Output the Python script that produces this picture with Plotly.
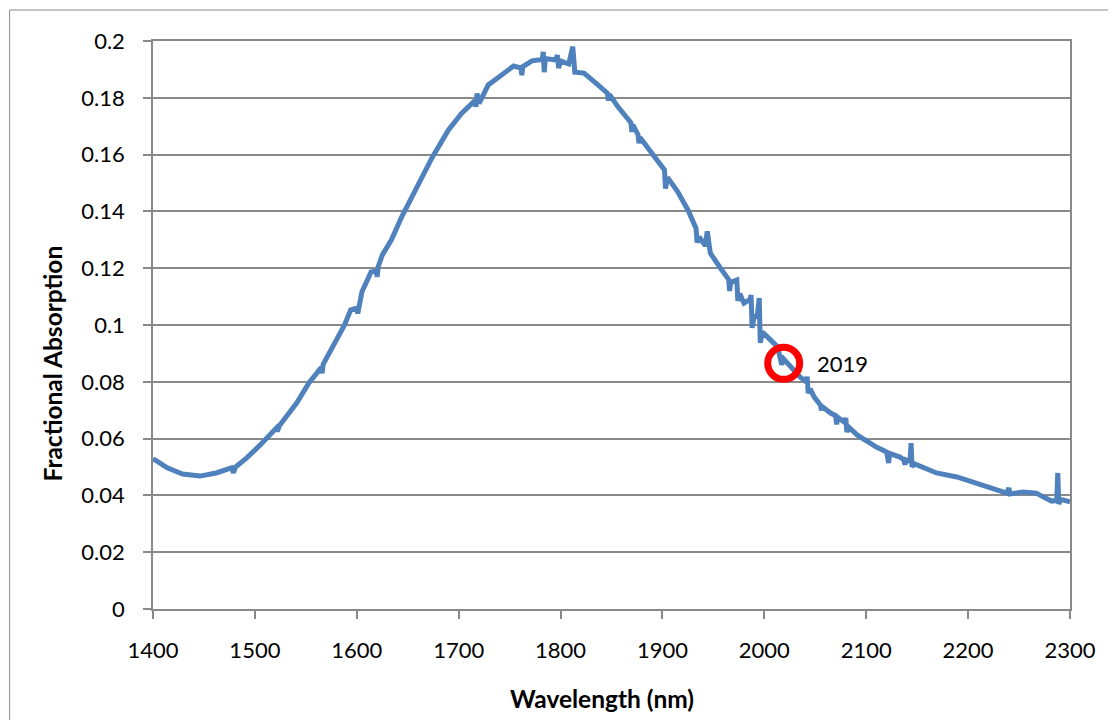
import plotly.graph_objects as go

# Wavelength (nm) and fractional absorption
wavelength = [
    1400, 1402, 1414, 1429, 1446, 1462, 1477, 1479, 1481, 1492,
    1505, 1521, 1522, 1524, 1541, 1553, 1565, 1566, 1567, 1576,
    1588, 1594, 1600, 1601, 1605, 1614, 1619, 1620, 1621, 1625,
    1634, 1644, 1654, 1674, 1690, 1703, 1716, 1717, 1718, 1720,
    1729, 1746, 1754, 1761, 1762, 1763, 1772, 1782, 1783, 1784,
    1785, 1795, 1797, 1798, 1800, 1808, 1812, 1814, 1823, 1837,
    1846, 1847, 1848, 1856, 1869, 1870, 1871, 1876, 1877, 1878,
    1889, 1902, 1903, 1905, 1915, 1925, 1933, 1934, 1936, 1942,
    1944, 1946, 1947, 1957, 1965, 1966, 1967, 1973, 1974, 1976,
    1980, 1986, 1987, 1988, 1990, 1993, 1995, 1996, 1998, 2003,
    2013, 2016, 2017, 2019, 2026, 2035, 2041, 2042, 2043, 2045,
    2049, 2055, 2056, 2057, 2065, 2070, 2071, 2072, 2078, 2080,
    2081, 2083, 2091, 2110, 2120, 2122, 2123, 2133, 2137, 2138,
    2139, 2143, 2144, 2145, 2147, 2150, 2169, 2189, 2208, 2225,
    2238, 2240, 2241, 2254, 2267, 2274, 2282, 2287, 2288, 2289,
    2291, 2293, 2300,
]
absorption = [
    0.0528, 0.0525, 0.0497, 0.0475, 0.0468, 0.0479, 0.0497, 0.0480, 0.0500, 0.0532,
    0.0577, 0.0637, 0.0625, 0.0645, 0.0725, 0.0796, 0.0850, 0.0830, 0.0862, 0.0919,
    0.1000, 0.1053, 0.1060, 0.1040, 0.1116, 0.1187, 0.1190, 0.1170, 0.1205, 0.1246,
    0.1300, 0.1380, 0.1450, 0.1590, 0.1687, 0.1746, 0.1790, 0.1768, 0.1815, 0.1780,
    0.1845, 0.1887, 0.1912, 0.1905, 0.1880, 0.1910, 0.1930, 0.1935, 0.1962, 0.1890,
    0.1938, 0.1933, 0.1950, 0.1905, 0.1930, 0.1919, 0.1980, 0.1890, 0.1887, 0.1845,
    0.1816, 0.1790, 0.1812, 0.1770, 0.1712, 0.1680, 0.1705, 0.1670, 0.1640, 0.1660,
    0.1605, 0.1546, 0.1480, 0.1520, 0.1469, 0.1405, 0.1340, 0.1290, 0.1310, 0.1280,
    0.1330, 0.1260, 0.1253, 0.1200, 0.1160, 0.1120, 0.1150, 0.1158, 0.1085, 0.1110,
    0.1077, 0.1090, 0.1105, 0.0990, 0.1030, 0.1030, 0.1095, 0.0937, 0.0975, 0.0958,
    0.0923, 0.0877, 0.0860, 0.0880, 0.0850, 0.0817, 0.0800, 0.0818, 0.0760, 0.0775,
    0.0746, 0.0718, 0.0700, 0.0712, 0.0690, 0.0680, 0.0650, 0.0675, 0.0659, 0.0672,
    0.0623, 0.0640, 0.0613, 0.0570, 0.0553, 0.0514, 0.0548, 0.0535, 0.0525, 0.0508,
    0.0525, 0.0520, 0.0584, 0.0500, 0.0512, 0.0507, 0.0479, 0.0465, 0.0443, 0.0419,
    0.0408, 0.0426, 0.0405, 0.0412, 0.0408, 0.0394, 0.0380, 0.0382, 0.0479, 0.0370,
    0.0385, 0.0384, 0.0377,
]

marker_x = [2019]
marker_y = [0.0865]
marker_label = ["2019"]

x_ticks = [1400, 1500, 1600, 1700, 1800, 1900, 2000, 2100, 2200, 2300]
y_ticks = [0, 0.02, 0.04, 0.06, 0.08, 0.1, 0.12, 0.14, 0.16, 0.18, 0.2]
y_tick_text = ["0", "0.02", "0.04", "0.06", "0.08", "0.1", "0.12", "0.14", "0.16", "0.18", "0.2"]

FONT = "Lato, Carlito, Calibri, sans-serif"
GRID = "#898989"

fig = go.Figure()
fig.add_trace(go.Scatter(
    x=wavelength, y=absorption, mode="lines",
    line=dict(color="#4F81BD", width=5),
    hoverinfo="x+y", showlegend=False,
))
fig.add_trace(go.Scatter(
    x=marker_x, y=marker_y, mode="markers",
    marker=dict(size=32, color="rgba(0,0,0,0)", line=dict(color="#FF0000", width=7)),
    showlegend=False,
))

fig.add_annotation(x=marker_x[0], y=marker_y[0], text=marker_label[0],
                   xanchor="left", yanchor="middle", xshift=31, showarrow=False,
                   font=dict(family=FONT, size=22, color="black"))

# axis titles
fig.add_annotation(x=(604 - 153) / 921, y=-(698 - 609) / 568, xref="paper", yref="paper",
                   text="<b>Wavelength (nm)</b>", showarrow=False,
                   xanchor="center", yanchor="middle",
                   font=dict(family=FONT, size=24.5, color="black"))
fig.add_annotation(x=(52 - 153) / 921, y=(609 - 363) / 568, xref="paper", yref="paper",
                   text="<b>Fractional Absorption</b>", showarrow=False, textangle=-90,
                   xanchor="center", yanchor="middle",
                   font=dict(family=FONT, size=24.5, color="black"))

# outer chart border
fig.add_shape(type="rect", xref="paper", yref="paper",
              x0=(9 - 153) / 921, x1=1.3, y0=-0.5, y1=(609 - 10) / 568,
              line=dict(color="#898989", width=1), fillcolor="rgba(0,0,0,0)", layer="below")

fig.update_layout(
    width=1100, height=712,
    margin=dict(l=145, r=32, t=33, b=111),
    paper_bgcolor="white", plot_bgcolor="white",
    font=dict(family=FONT, size=22, color="black"),
    xaxis=dict(
        range=[1400, 2300], tickmode="array", tickvals=x_ticks,
        showgrid=False, zeroline=False,
        showline=True, linecolor=GRID, linewidth=1.5, mirror=True,
        ticks="outside", ticklen=8, tickcolor=GRID, tickwidth=1.5,
        ticklabelstandoff=13,
        tickfont=dict(family=FONT, size=22, color="black"),
    ),
    yaxis=dict(
        range=[0, 0.2], tickmode="array", tickvals=y_ticks, ticktext=y_tick_text,
        showgrid=True, gridcolor=GRID, gridwidth=1.5, zeroline=False,
        showline=True, linecolor=GRID, linewidth=1.5, mirror=True,
        ticks="outside", ticklen=8, tickcolor=GRID, tickwidth=1.5,
        ticklabelstandoff=14,
        tickfont=dict(family=FONT, size=22, color="black"),
    ),
)

fig.write_html("out.html")
